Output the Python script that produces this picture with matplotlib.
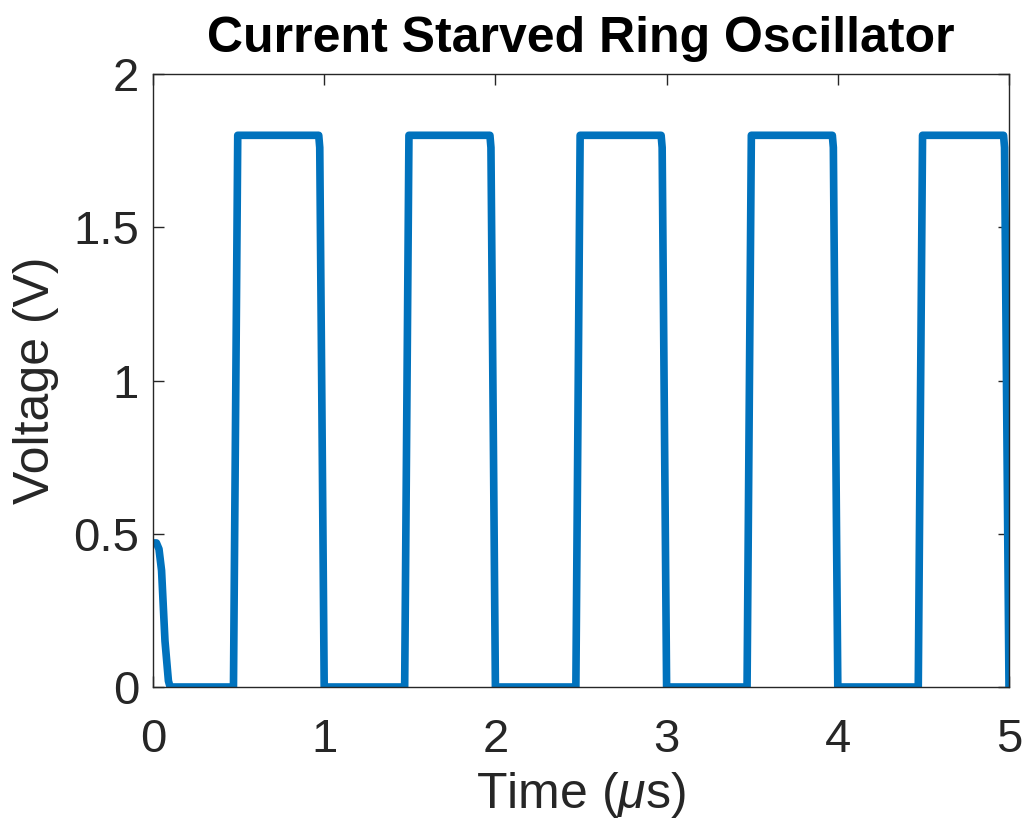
import numpy as np
from matplotlib import pyplot as plt

plt.rcParams['font.family'] = ['Liberation Sans', 'DejaVu Sans']
plt.rcParams['mathtext.fontset'] = 'custom'
plt.rcParams['mathtext.it'] = 'Liberation Sans:italic'
plt.rcParams['mathtext.rm'] = 'Liberation Sans'

# oscillator output, breakpoints of the transient waveform (time in us, volts)
time_us = [0.0, 0.02, 0.035, 0.05, 0.07, 0.09, 0.10,
           0.47, 0.495, 0.968, 0.974, 1.0,
           1.47, 1.495, 1.968, 1.974, 2.0,
           2.47, 2.495, 2.968, 2.974, 3.0,
           3.47, 3.495, 3.968, 3.974, 4.0,
           4.47, 4.495, 4.968, 4.974, 5.0]
voltage = [0.47, 0.47, 0.45, 0.38, 0.15, 0.02, 0.0,
           0.0, 1.80, 1.80, 1.76, 0.0,
           0.0, 1.80, 1.80, 1.76, 0.0,
           0.0, 1.80, 1.80, 1.76, 0.0,
           0.0, 1.80, 1.80, 1.76, 0.0,
           0.0, 1.80, 1.80, 1.76, 0.0]

xticks = [0, 1, 2, 3, 4, 5]
yticks = [0, 0.5, 1, 1.5, 2]
ytick_labels = ['0', '0.5', '1', '1.5', '2']

fig = plt.figure(figsize=(10.26, 8.33), dpi=100)
ax = fig.add_axes([153 / 1026, 1 - 687 / 833, 856 / 1026, 613 / 833])

ax.plot(time_us, voltage, color='#0072BD', linewidth=5.5,
        solid_joinstyle='round', solid_capstyle='round')

ax.set_xlim(0, 5)
ax.set_ylim(0, 2)
ax.set_xticks(xticks)
ax.set_yticks(yticks)
ax.set_yticklabels(ytick_labels)
ax.tick_params(direction='in', top=True, right=True, length=8, width=1,
               labelsize=34, colors='#262626')
ax.tick_params(axis='y', pad=10)
ax.tick_params(axis='x', pad=22)
for s in ax.spines.values():
    s.set_color('#262626')
    s.set_linewidth(1)

ax.set_xlabel(r'Time ($\mu$s)', fontsize=36, color='#262626', labelpad=6)
ax.set_ylabel('Voltage (V)', fontsize=36, color='#262626', labelpad=10)
ax.set_title('Current Starved Ring Oscillator', fontsize=36, fontweight='bold',
             pad=16)

fig.savefig('out.png', dpi=100)
